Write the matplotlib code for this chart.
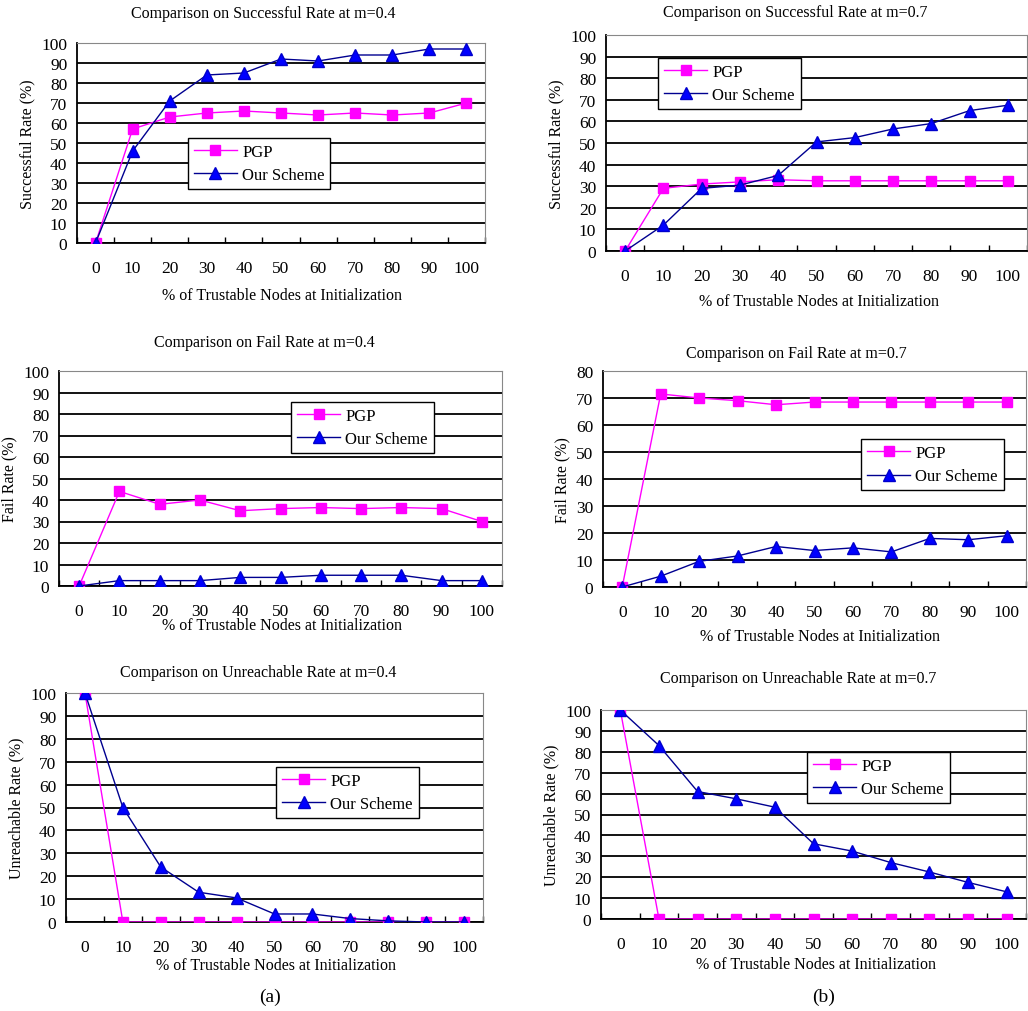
import numpy as np
from matplotlib import pyplot as plt

plt.rcParams['font.family'] = ['Liberation Serif', 'DejaVu Serif']

categories = ['0', '10', '20', '30', '40', '50', '60', '70', '80', '90', '100']

succ_04_pgp = [0, 57, 63, 65, 66, 65, 64, 65, 64, 65, 70]
succ_04_our = [0, 46, 71, 84, 85, 92, 91, 94, 94, 97, 97]
succ_07_pgp = [0, 29, 31, 32, 33, 32.5, 32.5, 32.5, 32.5, 32.5, 32.5]
succ_07_our = [0, 12, 29, 30.5, 35, 50.5, 52.5, 56.5, 59, 65, 67.5]
fail_04_pgp = [0, 44, 38, 40, 35, 36, 36.5, 36, 36.5, 36, 30]
fail_04_our = [0, 2.5, 2.5, 2.5, 4, 4, 5, 5, 5, 2.5, 2.5]
fail_07_pgp = [0, 71.5, 70, 69, 67.5, 68.5, 68.5, 68.5, 68.5, 68.5, 68.5]
fail_07_our = [0, 4, 9.5, 11.5, 15, 13.5, 14.5, 13, 18, 17.5, 19]
unr_04_pgp = [100, 0, 0, 0, 0, 0, 0, 0, 0, 0, 0]
unr_04_our = [100, 50, 24, 13, 10.5, 3.5, 3.5, 1.5, 0.5, 0, 0]
unr_07_pgp = [100, 0, 0, 0, 0, 0, 0, 0, 0, 0, 0]
unr_07_our = [100, 83, 61, 57.5, 53.5, 36, 32.5, 27, 22.5, 17.5, 13]

W, H = 1028, 1012
fig = plt.figure(figsize=(W / 100, H / 100), dpi=100)

def rect(l, r, t, b):
    return [l / W, 1 - b / H, (r - l) / W, (b - t) / H]

xlab = '% of Trustable Nodes at Initialization'

# (axes rect, ymax, title, title pos, ylabel, xlabel pos, legend anchor, pgp, ours)
panels = [
    (rect(77, 485, 44, 244), 100, 'Comparison on Successful Rate at m=0.4', (263, 14),
     'Successful Rate (%)', (282, 296), (0.272, 0.525), succ_04_pgp, succ_04_our),
    (rect(606, 1027, 36, 252), 100, 'Comparison on Successful Rate at m=0.7', (795, 13),
     'Successful Rate (%)', (819, 302), (0.124, 0.894), succ_07_pgp, succ_07_our),
    (rect(59, 502, 372, 587), 100, 'Comparison on Fail Rate at m=0.4', (264, 343),
     'Fail Rate (%)', (282, 626), (0.524, 0.856), fail_04_pgp, fail_04_our),
    (rect(603, 1026, 372, 588), 80, 'Comparison on Fail Rate at m=0.7', (796, 354),
     'Fail Rate (%)', (820, 637), (0.61, 0.685), fail_07_pgp, fail_07_our),
    (rect(66, 483, 694, 923), 100, 'Comparison on Unreachable Rate at m=0.4', (258, 673),
     'Unreachable Rate (%)', (276, 966), (0.504, 0.677), unr_04_pgp, unr_04_our),
    (rect(601, 1026, 711, 920), 100, 'Comparison on Unreachable Rate at m=0.7', (798, 679),
     'Unreachable Rate (%)', (816, 965), (0.485, 0.80), unr_07_pgp, unr_07_our),
]

x = np.arange(len(categories))
for r, ymax, title, tpos, ylab, xpos, lpos, pgp, ours in panels:
    ax = fig.add_axes(r)
    ax.plot(x, pgp, color='#FF00FF', lw=1.0, marker='s', ms=7,
            markerfacecolor='#FF00FF', markeredgecolor='#FF00FF', label='PGP', zorder=3)
    ax.plot(x, ours, color='#000090', lw=1.0, marker='^', ms=8,
            markerfacecolor='#0000FF', markeredgecolor='#0000CC', label='Our Scheme', zorder=4)
    ax.set_xlim(-0.5, len(categories) - 0.5)
    ax.set_ylim(0, ymax)
    ax.set_yticks(np.arange(0, ymax + 1, 10))
    ax.yaxis.grid(True, color='black', lw=1.3)
    ax.set_axisbelow(True)
    ax.set_xticks(x)
    ax.set_xticklabels(categories)
    ax.set_xticks(np.arange(-0.5, len(categories)), minor=True)
    ax.tick_params(axis='x', which='major', length=0, pad=12, labelsize=12.5)
    ax.tick_params(axis='x', which='minor', length=4, direction='in', width=1)
    ax.tick_params(axis='y', length=0, pad=7, labelsize=12.5)
    for s in ['top', 'right']:
        ax.spines[s].set_color('#888888')
        ax.spines[s].set_linewidth(0.8)
    for s in ['left', 'bottom']:
        ax.spines[s].set_color('black')
        ax.spines[s].set_linewidth(1.3)
    ax.set_ylabel(ylab, fontsize=11.5, labelpad=4)
    leg = ax.legend(loc='upper left', bbox_to_anchor=lpos, fontsize=12, frameon=True,
                    fancybox=False, edgecolor='black', framealpha=1, handlelength=2.6,
                    borderpad=0.35, labelspacing=0.45, handletextpad=0.3, borderaxespad=0)
    leg.get_frame().set_linewidth(1.0)
    fig.text(tpos[0] / W, 1 - tpos[1] / H, title, ha='center', va='center', fontsize=11.5)
    fig.text(xpos[0] / W, 1 - xpos[1] / H, xlab, ha='center', va='center', fontsize=11.5)

fig.text(270 / W, 1 - 997 / H, '(a)', ha='center', va='center', fontsize=14)
fig.text(824 / W, 1 - 997 / H, '(b)', ha='center', va='center', fontsize=14)

fig.savefig('out.png', dpi=100)
